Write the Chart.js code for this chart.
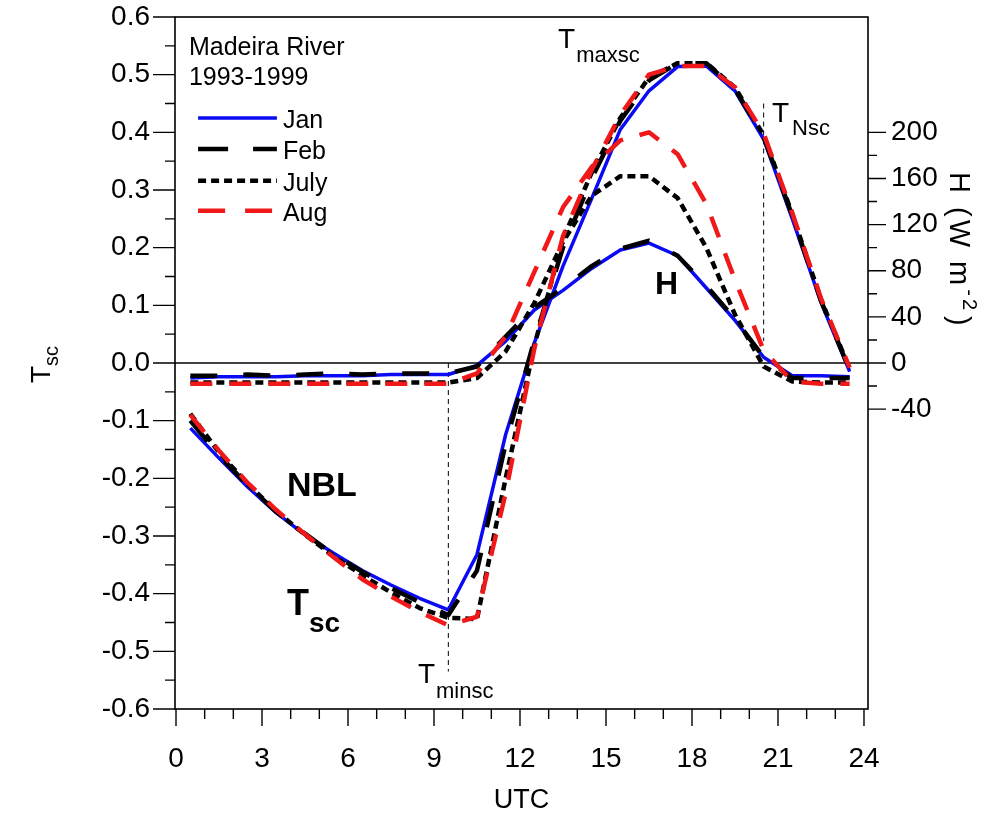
<!DOCTYPE html>
<html><head><meta charset="utf-8">
<script src="https://cdn.jsdelivr.net/npm/chart.js@4.4.0/dist/chart.umd.min.js"></script>
<style>html,body{margin:0;padding:0;background:#fff;}#wrap{width:1000px;height:819px;}</style>
</head><body><div id="wrap"><canvas id="c" width="1000" height="819"></canvas></div>
<script>
// ---------- data ----------
const hours = [0.5,1.5,2.5,3.5,4.5,5.5,6.5,7.5,8.5,9.5,10.5,11.5,12.5,13.5,14.5,15.5,16.5,17.5,18.5,19.5,20.5,21.5,22.5,23.5];

const tscJan = [-0.113,-0.165,-0.215,-0.260,-0.298,-0.330,-0.360,-0.385,-0.408,-0.428,-0.332,-0.124,0.035,0.168,0.285,0.405,0.472,0.514,0.515,0.472,0.388,0.250,0.105,-0.015];
const tscFeb = [-0.100,-0.160,-0.212,-0.258,-0.296,-0.332,-0.362,-0.390,-0.415,-0.437,-0.360,-0.140,0.040,0.200,0.320,0.420,0.490,0.520,0.520,0.475,0.392,0.255,0.108,-0.012];
const tscJul = [-0.088,-0.155,-0.210,-0.257,-0.298,-0.335,-0.368,-0.398,-0.425,-0.442,-0.444,-0.200,0.030,0.215,0.330,0.425,0.495,0.520,0.520,0.478,0.395,0.258,0.110,-0.010];
const tscAug = [-0.090,-0.152,-0.208,-0.255,-0.297,-0.337,-0.375,-0.405,-0.432,-0.455,-0.440,-0.225,0.025,0.220,0.335,0.430,0.500,0.515,0.515,0.478,0.398,0.260,0.112,-0.008];

const hJan = [-13,-12,-12,-12,-11,-11,-11,-10,-10,-10,-2,19,46,63,82,98,104,93,65,37,5,-11,-11,-12];
const hFeb = [-11,-11,-10,-11,-10,-9,-10,-9,-9,-9,-3,23,48,65,84,99,106,93,67,38,5,-13,-13,-13];
const hJul = [-17,-17,-17,-17,-17,-17,-17,-17,-17,-17,-13,10,52,105,145,162,162,143,100,42,-3,-16,-17,-17];
const hAug = [-18,-18,-18,-18,-18,-18,-18,-18,-18,-18,-9,23,79,135,170,193,200,181,138,72,11,-16,-18,-18];

const monthNames = ['Jan','Feb','July','Aug'];

const xTickValues = [0,3,6,9,12,15,18,21,24];
const xTickLabels = ['0','3','6','9','12','15','18','21','24'];
const tscTickValues = [-0.6,-0.5,-0.4,-0.3,-0.2,-0.1,0,0.1,0.2,0.3,0.4,0.5,0.6];
const tscTickLabels = ['-0.6','-0.5','-0.4','-0.3','-0.2','-0.1','0.0','0.1','0.2','0.3','0.4','0.5','0.6'];
const hTickValues = [-40,0,40,80,120,160,200];
const hTickLabels = ['-40','0','40','80','120','160','200'];

const markerHours = [9.5, 20.5];
const markerTop = [0.0, 0.45];
const markerBottom = [-0.535, 0.038];

// ---------- styles ----------
const FONT = "'Liberation Sans', Arial, Helvetica, sans-serif";
const styles = [
  {color:'#0a0af5', dash:[], width:3.5, order:3},
  {color:'#000000', dash:[27,26], width:4.5, order:2},
  {color:'#000000', dash:[8,5], width:4.5, order:1},
  {color:'#f01818', dash:[22,17], width:4.5, order:0}
];
const tscSeries = [tscJan, tscFeb, tscJul, tscAug];
const hSeries = [hJan, hFeb, hJul, hAug];

function pts(vals){ return hours.map((h,i)=>({x:h,y:vals[i]})); }
const datasets = [];
tscSeries.forEach((s,i)=>datasets.push({label:monthNames[i]+' Tsc', data:pts(s), yAxisID:'y',
  borderColor:styles[i].color, borderDash:styles[i].dash, borderWidth:styles[i].width, order:styles[i].order,
  pointRadius:0, tension:0, fill:false, borderCapStyle:'butt', borderJoinStyle:'round'}));
hSeries.forEach((s,i)=>datasets.push({label:monthNames[i]+' H', data:pts(s), yAxisID:'y2',
  borderColor:styles[i].color, borderDash:styles[i].dash, borderWidth:styles[i].width, order:styles[i].order+0.5,
  pointRadius:0, tension:0, fill:false, borderCapStyle:'butt', borderJoinStyle:'round'}));

// ---------- drawing helpers ----------
function subText(ctx, x, y, main, sub, mainFont, subFont, dy, gap){
  ctx.font = mainFont; ctx.fillText(main, x, y);
  const w = ctx.measureText(main).width;
  ctx.font = subFont; ctx.fillText(sub, x + w + (gap||0), y + dy);
}

const overlay = {
  id:'overlay',
  beforeDatasetsDraw(chart){
    const ctx = chart.ctx, xs = chart.scales.x, ys = chart.scales.y, a = chart.chartArea;
    ctx.save();
    ctx.strokeStyle = '#000'; ctx.lineWidth = 1.3;
    const y0 = ys.getPixelForValue(0);
    ctx.beginPath(); ctx.moveTo(a.left, y0); ctx.lineTo(a.right, y0); ctx.stroke();
    ctx.setLineDash([5,4]); ctx.lineWidth = 1;
    markerHours.forEach((h,i)=>{
      const px = xs.getPixelForValue(h);
      ctx.beginPath(); ctx.moveTo(px, ys.getPixelForValue(markerTop[i])); ctx.lineTo(px, ys.getPixelForValue(markerBottom[i])); ctx.stroke();
    });
    ctx.restore();
  },
  afterDraw(chart){
    const ctx = chart.ctx, xs = chart.scales.x, ys = chart.scales.y, y2 = chart.scales.y2, a = chart.chartArea;
    const P = (h,t)=>[xs.getPixelForValue(h), ys.getPixelForValue(t)];
    ctx.save();
    ctx.strokeStyle = '#000'; ctx.lineWidth = 1.6; ctx.setLineDash([]);
    ctx.strokeRect(a.left, a.top, a.right - a.left, a.bottom - a.top);
    ctx.lineWidth = 1.4;
    ctx.beginPath();
    for (let h = 0; h <= 24; h++){
      const px = xs.getPixelForValue(h); const len = (h % 3 === 0) ? 17 : 10;
      ctx.moveTo(px, a.bottom); ctx.lineTo(px, a.bottom + len);
    }
    for (let k = -12; k <= 12; k++){
      const py = ys.getPixelForValue(k * 0.05); const len = (k % 2 === 0) ? 22 : 10;
      ctx.moveTo(a.left - len, py); ctx.lineTo(a.left, py);
    }
    for (let v = -40; v <= 200; v += 20){
      const py = y2.getPixelForValue(v); const len = (v % 40 === 0) ? 18 : 9;
      ctx.moveTo(a.right, py); ctx.lineTo(a.right + len, py);
    }
    ctx.stroke();

    ctx.fillStyle = '#000'; ctx.textBaseline = 'alphabetic'; ctx.textAlign = 'center';
    ctx.font = '27px ' + FONT;
    ctx.fillText('UTC', (a.left + a.right) / 2, 808);
    ctx.textAlign = 'left';
    ctx.save(); ctx.translate(50, 383); ctx.rotate(-Math.PI/2);
    subText(ctx, 0, 0, 'T', 'sc', '28px ' + FONT, '20px ' + FONT, 8, 0);
    ctx.restore();
    ctx.save(); ctx.translate(950, 172); ctx.rotate(Math.PI/2);
    try { ctx.letterSpacing = '3px'; } catch(e) {}
    ctx.font = '29px ' + FONT; ctx.fillText('H (W m', 0, 0);
    let w = ctx.measureText('H (W m').width;
    ctx.font = '20px ' + FONT; ctx.fillText('-2', w + 1, -13);
    let w2 = ctx.measureText('-2').width;
    ctx.font = '29px ' + FONT; ctx.fillText(')', w + w2 + 4, 0);
    try { ctx.letterSpacing = '0px'; } catch(e) {}
    ctx.restore();

    ctx.font = '25px ' + FONT;
    let p = P(0.45, 0.534); ctx.fillText('Madeira River', p[0], p[1]);
    p = P(0.45, 0.482); ctx.fillText('1993-1999', p[0], p[1]);

    const legY = [0.425, 0.371, 0.316, 0.264];
    monthNames.forEach((m,i)=>{
      const s = styles[i];
      const a1 = P(0.77, legY[i]), a2 = P(3.52, legY[i]);
      ctx.save(); ctx.strokeStyle = s.color; ctx.lineWidth = s.width;
      ctx.setLineDash(i===1?[30,25]:(i===3?[27,20]:s.dash));
      ctx.beginPath(); ctx.moveTo(a1[0], a1[1]); ctx.lineTo(a2[0], a2[1]); ctx.stroke(); ctx.restore();
      ctx.font = '25px ' + FONT; ctx.fillText(m, P(3.73,0)[0], a1[1] + 10);
    });

    p = P(13.33, 0.546); subText(ctx, p[0], p[1], 'T', 'maxsc', '28px ' + FONT, '22px ' + FONT, 14, 1);
    p = P(20.79, 0.418); subText(ctx, p[0], p[1], 'T', 'Nsc', '28px ' + FONT, '22px ' + FONT, 13, 3);
    p = P(8.44, -0.555); subText(ctx, p[0], p[1], 'T', 'minsc', '28px ' + FONT, '22px ' + FONT, 15, 1);
    ctx.font = 'bold 32px ' + FONT; p = P(16.71, 0.12); ctx.fillText('H', p[0], p[1]);
    ctx.font = 'bold 34px ' + FONT; p = P(3.87, -0.231); ctx.fillText('NBL', p[0], p[1]);
    p = P(3.87, -0.437); subText(ctx, p[0], p[1], 'T', 'sc', 'bold 36px ' + FONT, 'bold 28px ' + FONT, 17, 0);
    ctx.restore();
  }
};

function noPad(s){ s.paddingTop = 0; s.paddingBottom = 0; s.paddingLeft = 0; s.paddingRight = 0; }
const tickFont = {family: FONT, size: 28};
new Chart(document.getElementById('c'), {
  type: 'line',
  data: { datasets },
  options: {
    responsive: false, animation: false, devicePixelRatio: 1,
    layout: { padding: { top: 17, left: 0, right: 0, bottom: 0 } },
    plugins: { legend: { display: false }, tooltip: { enabled: false } },
    scales: {
      x: { type: 'linear', min: -0.035, max: 24.14,
        afterBuildTicks: s => { s.ticks = xTickValues.map(v => ({value: v})); },
        afterFit: s => { s.height = 110; noPad(s); },
        grid: { display: false, drawTicks: false }, border: { display: false },
        ticks: { font: tickFont, color: '#000', padding: 33, maxRotation: 0, autoSkip: false,
          callback: (v, i) => xTickLabels[xTickValues.indexOf(v)] } },
      y: { type: 'linear', position: 'left', min: -0.6, max: 0.6,
        afterBuildTicks: s => { s.ticks = tscTickValues.map(v => ({value: v})); },
        afterFit: s => { s.width = 175; noPad(s); },
        grid: { display: false, drawTicks: false }, border: { display: false },
        ticks: { font: tickFont, color: '#000', padding: 25, autoSkip: false,
          callback: (v, i) => tscTickLabels[i] } },
      y2: { type: 'linear', position: 'right', min: -300, max: 300,
        afterBuildTicks: s => { s.ticks = hTickValues.map(v => ({value: v})); },
        afterFit: s => { s.width = 132; noPad(s); },
        grid: { display: false, drawTicks: false }, border: { display: false },
        ticks: { font: tickFont, color: '#000', padding: 23, autoSkip: false,
          callback: (v, i) => hTickLabels[i] } }
    }
  },
  plugins: [overlay]
});
</script></body></html>
